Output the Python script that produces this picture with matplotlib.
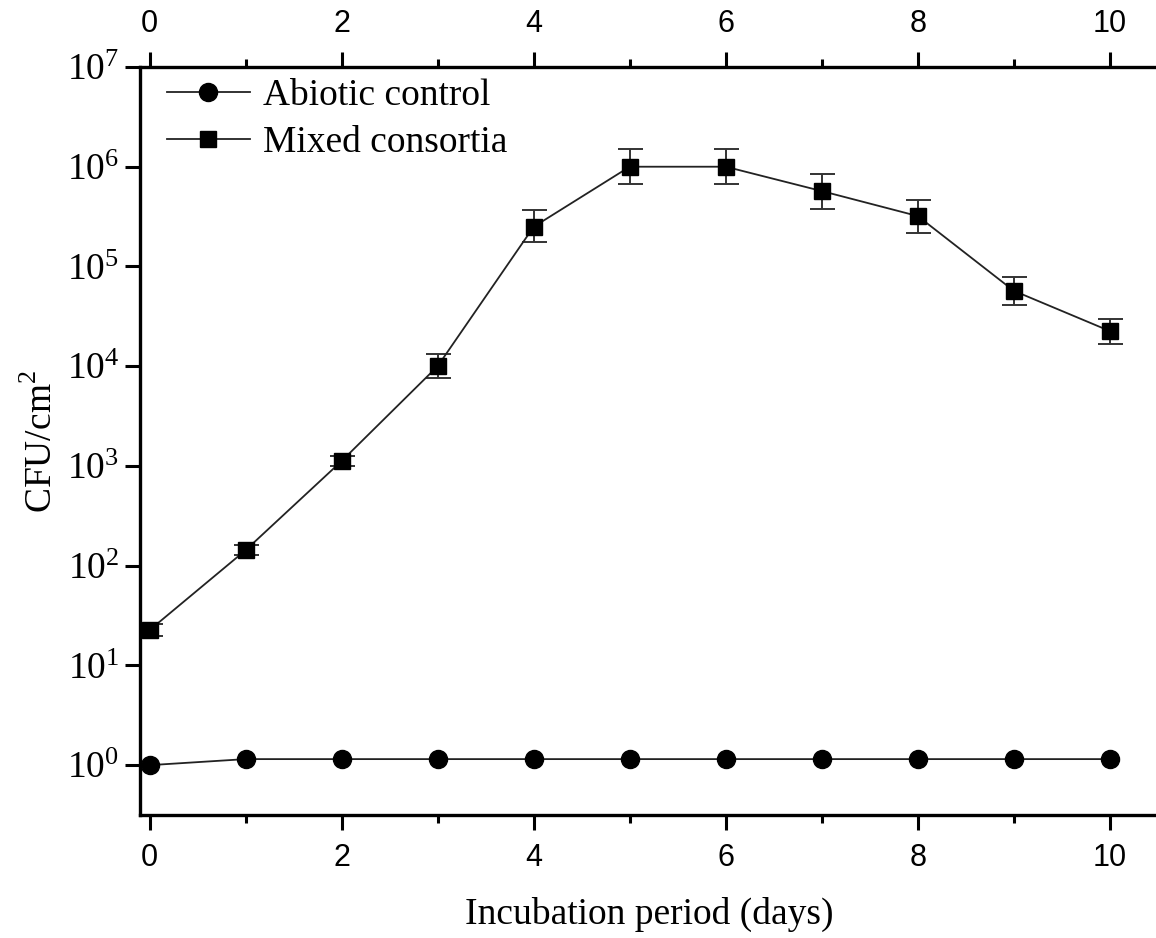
import matplotlib
matplotlib.use("Agg")
import matplotlib.pyplot as plt
from matplotlib.ticker import FixedLocator, MultipleLocator, NullLocator

plt.rcParams["font.family"] = ["Liberation Serif", "DejaVu Serif"]
plt.rcParams["mathtext.fontset"] = "custom"
plt.rcParams["mathtext.rm"] = "Liberation Serif"

days = [0, 1, 2, 3, 4, 5, 6, 7, 8, 9, 10]

abiotic = [1.0, 1.15, 1.15, 1.15, 1.15, 1.15, 1.15, 1.15, 1.15, 1.15, 1.15]

mixed = [22.6, 143, 1120, 1.0e4, 2.5e5, 1.0e6, 1.0e6, 5.7e5, 3.2e5, 5.7e4, 2.25e4]
mixed_hi = [26, 160, 1250, 1.32e4, 3.7e5, 1.5e6, 1.5e6, 8.5e5, 4.65e5, 7.8e4, 3.0e4]
mixed_lo = [19.5, 128, 1000, 7.6e3, 1.76e5, 6.7e5, 6.7e5, 3.8e5, 2.17e5, 4.1e4, 1.67e4]

y_exponents = [0, 1, 2, 3, 4, 5, 6, 7]
x_major = [0, 2, 4, 6, 8, 10]

fig = plt.figure(figsize=(11.56, 9.38), dpi=100)
ax = fig.add_axes([0.1211, 0.1311, 0.8805, 0.7975])

yerr = [[m - lo for m, lo in zip(mixed, mixed_lo)],
        [hi - m for m, hi in zip(mixed, mixed_hi)]]

ax.errorbar(days, mixed, yerr=yerr, fmt="none", ecolor="#333333",
            elinewidth=1.4, capsize=9, capthick=1.4, zorder=2)
ax.plot(days, abiotic, color="#222222", lw=1.3, marker="o", ms=13,
        mfc="black", mec="black", label="Abiotic control", zorder=3)
ax.plot(days, mixed, color="#222222", lw=1.3, marker="s", ms=11.5,
        mfc="black", mec="black", label="Mixed consortia", zorder=3)

ax.set_yscale("log")
ax.set_ylim(10 ** -0.5, 1e7)
ax.set_xlim(-0.1, 10.5)

ax.yaxis.set_major_locator(FixedLocator([10.0 ** e for e in y_exponents]))
ax.yaxis.set_minor_locator(NullLocator())
ax.set_yticklabels([r"$\mathregular{10^{%d}}$" % e for e in y_exponents])

ax.xaxis.set_major_locator(FixedLocator(x_major))
ax.xaxis.set_minor_locator(MultipleLocator(1))

for side in ["left", "top", "bottom"]:
    ax.spines[side].set_linewidth(2.4)
ax.spines["right"].set_visible(False)

ax.tick_params(axis="y", which="major", direction="out", length=11, width=2.2,
               labelsize=27, pad=4)
ax.tick_params(axis="x", which="major", direction="out", length=11, width=2.2,
               top=True, labeltop=True, labelsize=22, pad=9)
ax.tick_params(axis="x", which="minor", direction="out", length=6, width=2.2,
               top=True)
for lbl in ax.get_xticklabels():
    lbl.set_fontfamily(["Liberation Sans", "DejaVu Sans"])

ax.set_xlabel("Incubation period (days)", fontsize=27, labelpad=17)
ax.set_ylabel(r"CFU/cm$^\mathregular{2}$", fontsize=27, labelpad=5)

ax.legend(loc="upper left", bbox_to_anchor=(0.012, 1.004), frameon=False,
          fontsize=27, handlelength=2.2, handletextpad=0.35,
          labelspacing=0.32, borderaxespad=0.2, borderpad=0.2)

fig.savefig("out.png", dpi=100)
